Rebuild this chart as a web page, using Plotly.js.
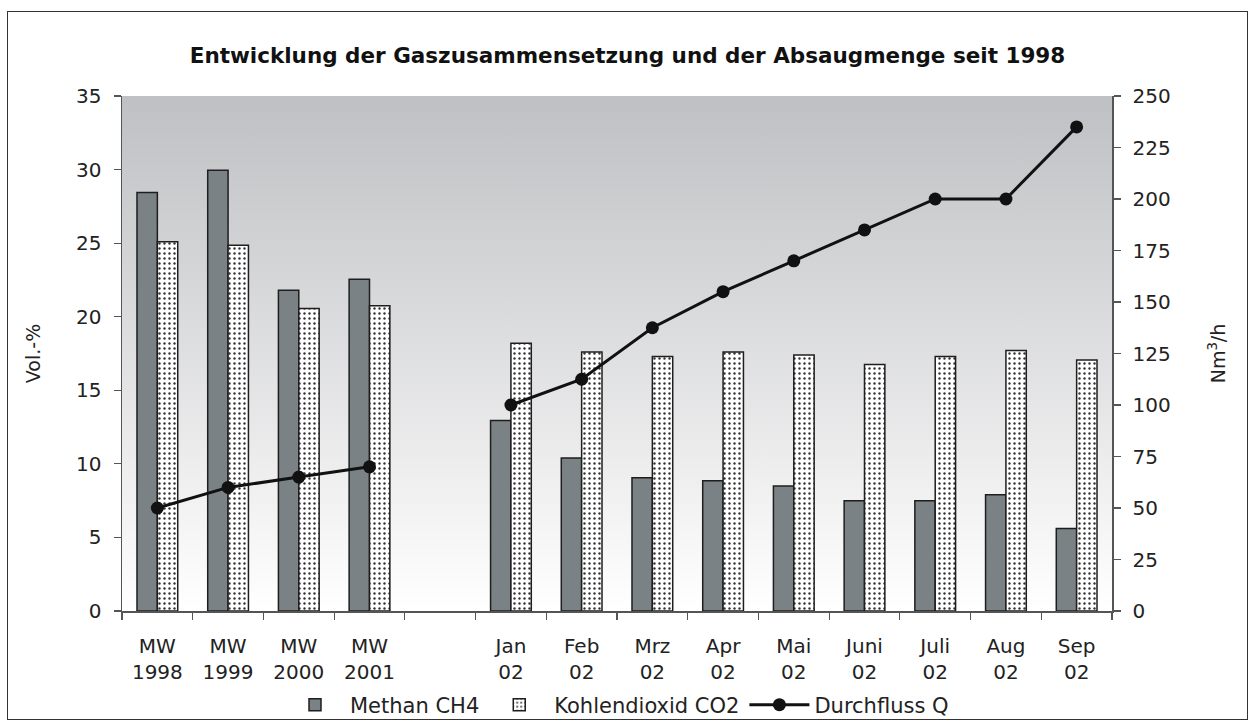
<!DOCTYPE html>
<html>
<head>
<meta charset="utf-8">
<script src="https://cdn.plot.ly/plotly-3.0.1.min.js"></script>
<style>
  html, body { margin: 0; padding: 0; background: #fff; }
  #wrap { position: relative; width: 1255px; height: 726px; }
  #chart { position: absolute; left: 0; top: 0; width: 1255px; height: 726px; }
  #frame { position: absolute; left: 7px; top: 11px; width: 1239px; height: 707px;
           border: 1.5px solid #333; pointer-events: none; }
</style>
</head>
<body>
<div id="wrap">
  <div id="chart"></div>
  <div id="frame"></div>
</div>
<script>
// ---- data ----
const categories = ["MW<br>1998", "MW<br>1999", "MW<br>2000", "MW<br>2001", " ",
  "Jan<br>02", "Feb<br>02", "Mrz<br>02", "Apr<br>02", "Mai<br>02",
  "Juni<br>02", "Juli<br>02", "Aug<br>02", "Sep<br>02"];
const methan = [28.45, 29.95, 21.8, 22.55, null, 12.95, 10.4, 9.05, 8.85, 8.5, 7.5, 7.5, 7.9, 5.6];
const co2 = [25.1, 24.85, 20.55, 20.75, null, 18.2, 17.6, 17.3, 17.6, 17.4, 16.75, 17.3, 17.7, 17.05];
const durchfluss = [50, 60, 65, 70, null, 100, 112.5, 137.5, 155, 170, 185, 200, 200, 235];
const seriesNames = ["Methan CH4", "Kohlendioxid CO2", "Durchfluss Q"];
const titleText = "Entwicklung der Gaszusammensetzung und der Absaugmenge seit 1998";
const leftTitle = "Vol.-%";
const rightTitle = "Nm<sup>3</sup>/h";

const FONT = "DejaVu Sans";
const axisColor = "#555";

const traces = [
  {
    type: "bar", name: seriesNames[0], x: categories, y: methan,
    marker: { color: "#7b8285", line: { color: "#1e1e1e", width: 1.5 } },
    xaxis: "x", yaxis: "y"
  },
  {
    type: "bar", name: seriesNames[1], x: categories, y: co2,
    marker: { color: "#ffffff", line: { color: "#1e1e1e", width: 1.5 },
      pattern: { shape: ".", bgcolor: "#ffffff", fgcolor: "#333", size: 5, solidity: 0.18 } },
    xaxis: "x", yaxis: "y"
  },
  {
    type: "scatter", mode: "lines+markers", name: seriesNames[2], x: categories, y: durchfluss,
    line: { color: "#111", width: 3 },
    marker: { color: "#111", size: 13 },
    connectgaps: false,
    xaxis: "x", yaxis: "y2"
  }
];

const nCat = categories.length;
const boundaries = Array.from({ length: nCat + 1 }, (_, i) => i - 0.5);

const gradSvg = '<svg xmlns="http://www.w3.org/2000/svg" width="100" height="100" preserveAspectRatio="none">' +
  '<defs><linearGradient id="g" x1="0" y1="0" x2="0" y2="1">' +
  '<stop offset="0" stop-color="#bfc0c3"/><stop offset="1" stop-color="#ffffff"/>' +
  '</linearGradient></defs><rect width="100" height="100" fill="url(#g)"/></svg>';

const tickFont = { family: FONT, size: 20, color: "#222" };

const layout = {
  width: 1255, height: 726,
  margin: { l: 122, r: 143, t: 96, b: 115, pad: 0, autoexpand: false },
  paper_bgcolor: "rgba(0,0,0,0)",
  plot_bgcolor: "rgba(0,0,0,0)",
  font: { family: FONT, size: 20, color: "#222" },
  title: {
    text: "<b>" + titleText + "</b>",
    font: { family: FONT, size: 21.5, color: "#111" },
    x: 0.5, xref: "container", xanchor: "center",
    y: 1 - 55 / 726, yref: "container", yanchor: "middle"
  },
  barmode: "group",
  bargap: 0.424,
  bargroupgap: 0,
  showlegend: true,
  legend: {
    orientation: "h", x: 0.5, xanchor: "center",
    yref: "container", y: 1 - 705 / 726, yanchor: "middle",
    font: { family: FONT, size: 21, color: "#222" },
    traceorder: "normal", itemwidth: 60, bgcolor: "rgba(0,0,0,0)"
  },
  images: [{
    source: "data:image/svg+xml;charset=utf-8," + encodeURIComponent(gradSvg),
    xref: "paper", yref: "paper", x: 0, y: 1, sizex: 1, sizey: 1,
    xanchor: "left", yanchor: "top", sizing: "stretch", layer: "below"
  }],
  xaxis: {
    type: "category", categoryorder: "array", categoryarray: categories,
    range: [-0.5, nCat - 0.5],
    tickson: "boundaries", ticks: "outside", ticklen: 7, tickwidth: 1.2, tickcolor: axisColor,
    showline: true, linecolor: axisColor, linewidth: 1.5, mirror: false,
    showgrid: false, zeroline: false, tickfont: tickFont, ticklabelstandoff: 16,
    fixedrange: true
  },
  xaxis2: {
    overlaying: "x", anchor: "y", type: "linear", range: [-0.5, nCat - 0.5],
    tickmode: "array", tickvals: boundaries, ticks: "inside", ticklen: 7, tickwidth: 1.2,
    tickcolor: axisColor, showticklabels: false, showline: true, mirror: true,
    linecolor: "#8a8a8a", linewidth: 1, showgrid: false, zeroline: false, fixedrange: true
  },
  yaxis: {
    range: [0, 35], dtick: 5, ticks: "outside", ticklen: 7, tickwidth: 1.2, tickcolor: axisColor,
    showline: true, linecolor: axisColor, linewidth: 1.5, showgrid: false, zeroline: false,
    tickfont: tickFont, ticklabelstandoff: 8,
    title: { text: leftTitle, font: { family: FONT, size: 19, color: "#222" }, standoff: 30 },
    fixedrange: true
  },
  yaxis3: {
    overlaying: "y", anchor: "x", side: "left", range: [0, 35], dtick: 5,
    ticks: "inside", ticklen: 7, tickwidth: 1.2, tickcolor: axisColor,
    showticklabels: false, showline: false, showgrid: false, zeroline: false, fixedrange: true
  },
  yaxis2: {
    overlaying: "y", anchor: "x", side: "right", range: [0, 250], dtick: 25,
    ticks: "outside", ticklen: 7, tickwidth: 1.2, tickcolor: axisColor,
    showline: true, linecolor: axisColor, linewidth: 1.5, showgrid: false, zeroline: false,
    tickfont: tickFont, ticklabelstandoff: 8,
    title: { text: rightTitle, font: { family: FONT, size: 19, color: "#222" }, standoff: 42 },
    fixedrange: true
  },
  yaxis4: {
    overlaying: "y", anchor: "x", side: "right", range: [0, 250], dtick: 25,
    ticks: "inside", ticklen: 7, tickwidth: 1.2, tickcolor: axisColor,
    showticklabels: false, showline: false, showgrid: false, zeroline: false, fixedrange: true
  }
};

Plotly.newPlot("chart", traces, layout, { staticPlot: true, displayModeBar: false });
</script>
</body>
</html>
